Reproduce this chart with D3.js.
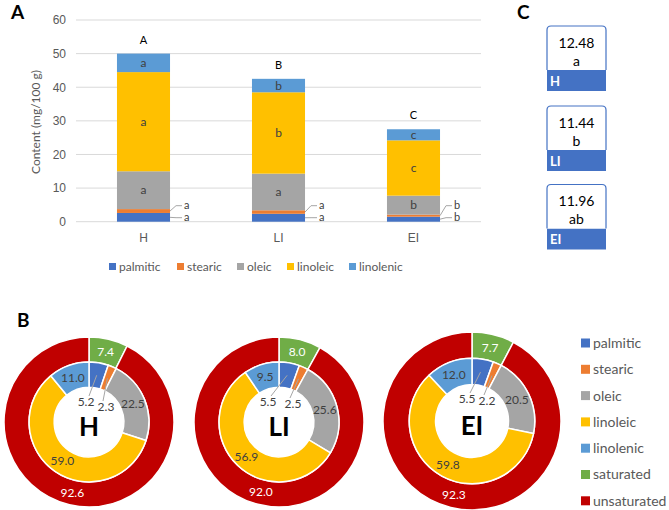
<!DOCTYPE html>
<html>
<head>
<meta charset="utf-8">
<script src="https://cdn.jsdelivr.net/npm/d3@7/dist/d3.min.js"></script>
<style>
  body { margin: 0; background: #fff; }
  svg { font-family: Lato, "Open Sans", sans-serif; }
  .grid line { stroke: #d9d9d9; }
  .tick text { fill: #595959; font-size: 12px; }
</style>
</head>
<body>
<div id="box"></div>
<script>
// ---- data ----
const groups = ['H', 'LI', 'EI']
const acids = ['palmitic', 'stearic', 'oleic', 'linoleic', 'linolenic']
const yTicks = [0, 10, 20, 30, 40, 50, 60]

// panel A: content mg/100 g
const palmitic = [2.6, 2.35, 1.5]
const stearic = [1.15, 1.05, 0.6]
const oleic = [11.25, 10.9, 5.65]
const linoleic = [29.5, 24.2, 16.45]
const linolenic = [5.5, 4.0, 3.3]
const palmiticSig = ['a', 'a', 'b']
const stearicSig = ['a', 'a', 'b']
const oleicSig = ['a', 'a', 'b']
const linoleicSig = ['a', 'b', 'c']
const linolenicSig = ['a', 'b', 'c']
const totalSig = ['A', 'B', 'C']

// panel C
const indexValues = ['12.48', '11.44', '11.96']
const indexSig = ['a', 'b', 'ab']

// panel B: percentages
const pctH = [5.2, 2.3, 22.5, 59.0, 11.0]
const pctLI = [5.5, 2.5, 25.6, 56.9, 9.5]
const pctEI = [5.5, 2.2, 20.5, 59.8, 12.0]
const satH = [7.4, 92.6]
const satLI = [8.0, 92.0]
const satEI = [7.7, 92.3]
const satNames = ['saturated', 'unsaturated']

const colors = {
  palmitic: '#4472c4', stearic: '#ed7d31', oleic: '#a5a5a5',
  linoleic: '#ffc000', linolenic: '#5b9bd5', saturated: '#70ad47', unsaturated: '#c00000'
}

const W = 669, H = 510
const svg = d3.select('#box').append('svg').attr('width', W).attr('height', H)

// ---- panel A ----
const x = d3.scaleBand().domain(groups).range([76, 481]).paddingInner(0.607).paddingOuter(0.3035)
const y = d3.scaleLinear().domain([0, 60]).range([221.7, 20])

svg.append('g').attr('class', 'grid')
  .selectAll('line').data(yTicks).enter().append('line')
  .attr('x1', 76).attr('x2', 481)
  .attr('y1', d => y(d)).attr('y2', d => y(d))

const yAxis = svg.append('g').attr('transform', 'translate(76,0)')
  .call(d3.axisLeft(y).tickValues(yTicks).tickSize(0).tickPadding(10))
yAxis.select('.domain').remove()

const xAxis = svg.append('g').attr('transform', 'translate(0,221.7)')
  .call(d3.axisBottom(x).tickSize(0).tickPadding(12))
xAxis.select('.domain').remove()

svg.append('text').attr('transform', 'translate(40,122) rotate(-90)')
  .attr('text-anchor', 'middle').attr('fill', '#595959').style('font-size', '12px')
  .text('Content (mg/100 g)')

const table = groups.map((g, i) => ({
  group: g, palmitic: palmitic[i], stearic: stearic[i], oleic: oleic[i],
  linoleic: linoleic[i], linolenic: linolenic[i]
}))
const sigs = { palmitic: palmiticSig, stearic: stearicSig, oleic: oleicSig, linoleic: linoleicSig, linolenic: linolenicSig }
const stacked = d3.stack().keys(acids)(table)

const layer = svg.selectAll('.layer').data(stacked).enter().append('g')
  .attr('fill', d => colors[d.key])
layer.selectAll('rect').data(d => d).enter().append('rect')
  .attr('x', d => x(d.data.group))
  .attr('width', x.bandwidth())
  .attr('y', d => y(d[1]))
  .attr('height', d => y(d[0]) - y(d[1]))

// letters inside big segments
stacked.filter(s => ['oleic', 'linoleic', 'linolenic'].includes(s.key)).forEach(s => {
  s.forEach((d, i) => {
    svg.append('text')
      .attr('x', x(d.data.group) + x.bandwidth() / 2)
      .attr('y', y((d[0] + d[1]) / 2)).attr('dy', '0.35em')
      .attr('text-anchor', 'middle').attr('fill', '#404040').style('font-size', '12px')
      .text(sigs[s.key][i])
  })
})

// letters for thin segments with leader lines (label rows just above the baseline)
const thinRow = { palmitic: -4, stearic: -16 }
stacked.filter(s => s.key === 'palmitic' || s.key === 'stearic').forEach(s => {
  s.forEach((d, i) => {
    const x0 = x(d.data.group) + x.bandwidth()
    const ym = y((d[0] + d[1]) / 2)
    const yl = y(0) + thinRow[s.key]
    svg.append('path')
      .attr('d', `M${x0},${ym} L${x0 + 6},${yl} L${x0 + 12},${yl}`)
      .attr('fill', 'none').attr('stroke', '#a6a6a6').attr('stroke-width', 1)
    svg.append('text')
      .attr('x', x0 + 14).attr('y', yl).attr('dy', '0.3em')
      .attr('fill', '#404040').style('font-size', '11px')
      .text(sigs[s.key][i])
  })
})

// totals letters
stacked[stacked.length - 1].forEach((d, i) => {
  svg.append('text')
    .attr('x', x(d.data.group) + x.bandwidth() / 2)
    .attr('y', y(d[1]) - 10)
    .attr('text-anchor', 'middle').attr('fill', '#000').style('font-size', '11px')
    .text(totalSig[i])
})

// legend A
const legA = [109, 177, 237, 287, 349]
acids.forEach((a, i) => {
  svg.append('rect').attr('x', legA[i]).attr('y', 263).attr('width', 7).attr('height', 7).attr('fill', colors[a])
  svg.append('text').attr('x', legA[i] + 10).attr('y', 267).attr('dy', '0.35em')
    .attr('fill', '#595959').style('font-size', '12px').text(a)
})

// panel labels
const panelLabel = (t, px, py) => svg.append('text').attr('x', px).attr('y', py)
  .style('font-size', '19px').style('font-weight', 'bold').attr('fill', '#000').text(t)
panelLabel('A', 11, 19)
panelLabel('C', 517, 19)
panelLabel('B', 17, 327)

// ---- panel C ----
const boxTop = [26, 106, 184.5]
groups.forEach((g, i) => {
  const bx = 547, bw = 59, bh = 65, t = boxTop[i]
  svg.append('rect').attr('x', bx).attr('y', t + bh - 21).attr('width', bw).attr('height', 21).attr('fill', '#4472c4')
  svg.append('path')
    .attr('d', `M${bx},${t + bh - 21} L${bx},${t + 4} Q${bx},${t} ${bx + 4},${t} L${bx + bw - 4},${t} Q${bx + bw},${t} ${bx + bw},${t + 4} L${bx + bw},${t + bh - 21}`)
    .attr('fill', '#fff').attr('stroke', '#4472c4').attr('stroke-width', 1.2)
  svg.append('text').attr('x', bx + bw / 2).attr('y', t + 17).attr('dy', '0.35em')
    .attr('text-anchor', 'middle').style('font-size', '14px').attr('fill', '#000').text(indexValues[i])
  svg.append('text').attr('x', bx + bw / 2).attr('y', t + 35).attr('dy', '0.35em')
    .attr('text-anchor', 'middle').style('font-size', '14px').attr('fill', '#000').text(indexSig[i])
  svg.append('text').attr('x', bx + 3).attr('y', t + bh - 10).attr('dy', '0.35em')
    .style('font-size', '13px').style('font-weight', 'bold').attr('fill', '#fff').text(g)
})

// ---- panel B ----
const donuts = [
  { name: 'H', pct: pctH, sat: satH, cx: 89, cy: 422, r: 85, small: [[-3, -20], [17, -15]] },
  { name: 'LI', pct: pctLI, sat: satLI, cx: 279, cy: 422, r: 85, small: [[-11, -20], [14, -18]] },
  { name: 'EI', pct: pctEI, sat: satEI, cx: 472, cy: 421, r: 89, small: [[-5, -22], [15, -20]] }
]
const pie = d3.pie().sort(null).value(d => d.v)

donuts.forEach(dn => {
  const g = svg.append('g').attr('transform', `translate(${dn.cx},${dn.cy})`)
  const r0 = dn.r * 0.41, r1 = dn.r * 0.705, r2 = dn.r
  const inner = d3.arc().innerRadius(r0).outerRadius(r1)
  const outer = d3.arc().innerRadius(r1).outerRadius(r2)
  const innerArcs = pie(acids.map((a, i) => ({ k: a, v: dn.pct[i] })))
  const outerArcs = pie(satNames.map((a, i) => ({ k: a, v: dn.sat[i] })))

  g.selectAll('.o').data(outerArcs).enter().append('path')
    .attr('d', outer).attr('fill', d => colors[d.data.k]).attr('stroke', '#fff').attr('stroke-width', 1.5)
  g.selectAll('.i').data(innerArcs).enter().append('path')
    .attr('d', inner).attr('fill', d => colors[d.data.k]).attr('stroke', '#fff').attr('stroke-width', 1.5)

  g.selectAll('.ol').data(outerArcs).enter().append('text')
    .attr('transform', d => `translate(${outer.centroid(d)})`).attr('dy', '0.35em')
    .attr('text-anchor', 'middle').attr('fill', '#fff').style('font-size', '12px')
    .text(d => d.data.v.toFixed(1))

  innerArcs.forEach((d, i) => {
    const c = inner.centroid(d)
    if (i < 2) {
      const [lx, ly] = dn.small[i]
      g.append('line').attr('x1', c[0]).attr('y1', c[1]).attr('x2', lx + (i === 0 ? 3 : -3)).attr('y2', ly - 6)
        .attr('stroke', '#a6a6a6').attr('stroke-width', 1)
      g.append('text').attr('x', lx).attr('y', ly).attr('dy', '0.35em')
        .attr('text-anchor', 'middle').attr('fill', '#404040').style('font-size', '12px')
        .text(d.data.v.toFixed(1))
    } else {
      g.append('text').attr('transform', `translate(${c})`).attr('dy', '0.35em')
        .attr('text-anchor', 'middle').attr('fill', '#404040').style('font-size', '12px')
        .text(d.data.v.toFixed(1))
    }
  })

  g.append('text').attr('y', 5).attr('dy', '0.35em').attr('text-anchor', 'middle')
    .style('font-size', '26px').style('font-weight', 'bold').attr('fill', '#000').text(dn.name)
})

// legend B
const legBNames = acids.concat(satNames)
legBNames.forEach((n, i) => {
  const ly = 343 + i * 26.3
  svg.append('rect').attr('x', 581).attr('y', ly - 4.5).attr('width', 9).attr('height', 9).attr('fill', colors[n])
  svg.append('text').attr('x', 593).attr('y', ly).attr('dy', '0.35em')
    .attr('fill', '#595959').style('font-size', '14px').text(n)
})
</script>
</body>
</html>
